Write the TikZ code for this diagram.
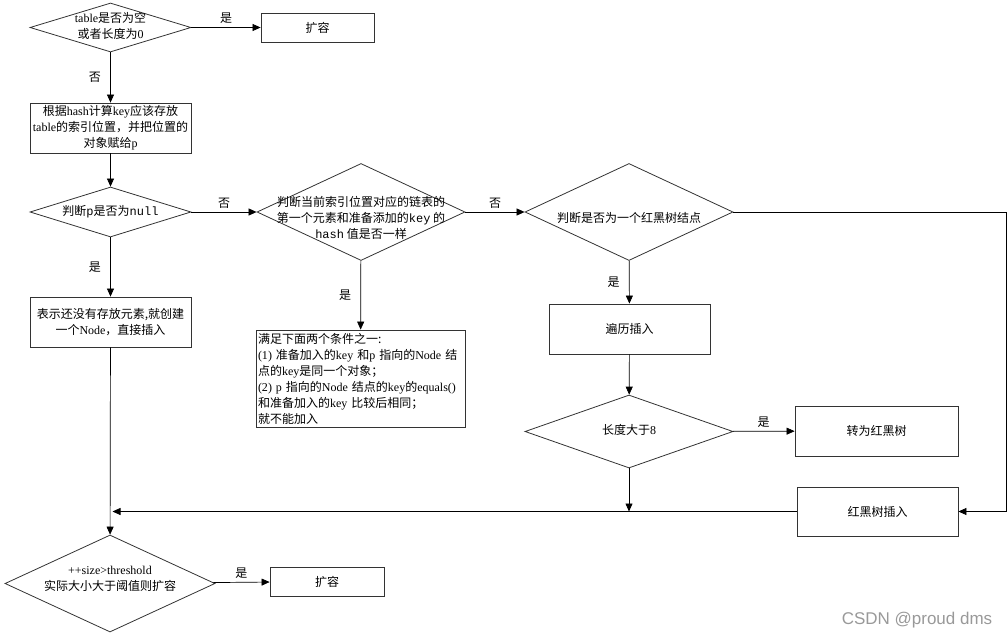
\documentclass[tikz,border=0pt]{standalone}
\usepackage{fontspec}
\setmainfont{Noto Sans CJK SC}
\newfontfamily\latf{Liberation Serif}
\newfontfamily\monof{Liberation Mono}
\newfontfamily\markf{Liberation Sans}
\usetikzlibrary{shapes.geometric,arrows.meta}

\newcommand\en[1]{{\latf #1}}
\newcommand\cw[1]{{\monof #1}}
% text of a diamond, kept out of the shape size
\newcommand\dtext[2][-3pt]{\smash{\makebox[0pt]{\raisebox{#1}{\begin{tabular}{@{}c@{}}#2\end{tabular}}}}}

\tikzset{
  every node/.style={font=\fontsize{12}{16}\selectfont},
  dec/.style={diamond, draw=black!80, line width=0.8pt, inner sep=0pt},
  box/.style={rectangle, draw=black!80, line width=0.8pt, align=center, inner sep=2pt},
}

\begin{document}
\begin{tikzpicture}[x=1pt, y=-1pt, line width=0.7pt, >={Triangle[length=8pt,width=7pt]}]
    \useasboundingbox (0,0) rectangle (1008,639);

    % left column
    \node[dec, minimum width=161pt, minimum height=49pt] (empty) at (110.5,27.5)
        {\dtext{\en{table}是否为空\\或者长度为\en{0}}};
    \node[box, minimum width=113pt, minimum height=29pt] (grow) at (317.5,27.5) {扩容};
    \node[box, minimum width=161pt, minimum height=50pt] (locate) at (110.5,128)
        {根据\en{hash}计算\en{key}应该存放\\\en{table}的索引位置，并把位置的\\对象赋给\en{p}};
    \node[dec, minimum width=161pt, minimum height=50pt] (isnull) at (110.5,212)
        {\dtext{判断\cw{p}是否为\cw{null}}};
    \node[box, minimum width=161pt, minimum height=50pt] (newnode) at (110.5,322)
        {表示还没有存放元素,就创建\\一个\en{Node}，直接插入};
    \node[dec, minimum width=210pt, minimum height=97pt] (over) at (110,583.5)
        {\dtext[1pt]{\en{++size>threshold}\\实际大小大于阈值则扩容}};
    \node[box, minimum width=114pt, minimum height=29pt] (resize) at (327,581.5) {扩容};

    % middle column
    \node[dec, minimum width=208pt, minimum height=97pt] (samehash) at (361,212)
        {\dtext[-10pt]{判断当前索引位置对应的链表的\\第一个元素和准备添加的\cw{key} 的\\\cw{hash} 值是否一样}};
    \node[box, text width=205pt, align=left, minimum height=97pt] (samekey) at (360.5,378.5)
        {满足下面两个条件之一:\\
         \en{(1)} 准备加入的\en{key} 和\en{p} 指向的\en{Node} 结\\
         点的\en{key}是同一个对象；\\
         \en{(2) p} 指向的\en{Node} 结点的\en{key}的\en{equals()}\\
         和准备加入的\en{key} 比较后相同；\\
         就不能加入};

    % right column
    \node[dec, minimum width=208pt, minimum height=97pt] (istree) at (629,212)
        {\dtext[-10pt]{判断是否为一个红黑树结点}};
    \node[box, minimum width=161pt, minimum height=50pt] (walk) at (629.5,329) {遍历插入};
    \node[dec, minimum width=208pt, minimum height=73pt] (long) at (629,431.5)
        {\dtext{长度大于\en{8}}};
    \node[box, minimum width=163pt, minimum height=50pt] (totree) at (876.5,431) {转为红黑树};
    \node[box, minimum width=161pt, minimum height=49pt] (treeput) at (877.5,511.5) {红黑树插入};
    \coordinate (edge) at (1006,212);

    \node[font=\markf\fontsize{17}{17}\selectfont, text=black!40] (mark) at (917,620) {CSDN @proud dms};

    \draw[->] (empty) -- node[above] {是} (grow);
    \draw[->] (empty) -- node[left=6pt] {否} (locate);
    \draw[->] (locate) -- (isnull);
    \draw[->] (isnull) -- node[above] {否} (samehash);
    \draw[->] (samehash) -- node[above] {否} (istree);
    \draw[->] (isnull) -- node[left=6pt] {是} (newnode);
    \draw[->] (samehash) -- node[left=6pt] {是} (samekey);
    \draw[->] (istree) -- node[left=6pt] {是} (walk);
    \draw[->] (walk) -- (long);
    \draw[->] (long) -- node[above] {是} (totree);
    \draw[->] (long.south) -- (long.south |- treeput.west);
    \draw[->] (istree.east) -- (edge) |- (treeput.east);
    \draw[->] (treeput.west) -- ([xshift=2pt]newnode.south |- treeput.west);
    \draw[->] (newnode) -- (over);
    \draw[->] (over) -- node[above] {是} (resize);
\end{tikzpicture}
\end{document}
